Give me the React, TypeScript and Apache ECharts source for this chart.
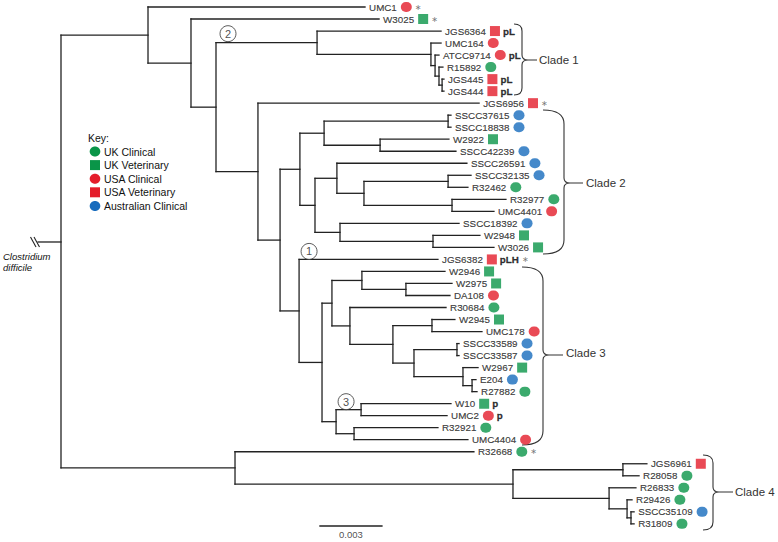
import React, { useEffect, useRef } from 'react';
import * as echarts from 'echarts';

// Leaves (top to bottom), branch-tip depth in units of 0.001 substitutions/site from the root
const leafNames = ['UMC1', 'W3025', 'JGS6364', 'UMC164', 'ATCC9714', 'R15892', 'JGS445', 'JGS444', 'JGS6956', 'SSCC37615', 'SSCC18838', 'W2922', 'SSCC42239', 'SSCC26591', 'SSCC32135', 'R32462', 'R32977', 'UMC4401', 'SSCC18392', 'W2948', 'W3026', 'JGS6382', 'W2946', 'W2975', 'DA108', 'R30684', 'W2945', 'UMC178', 'SSCC33589', 'SSCC33587', 'W2967', 'E204', 'R27882', 'W10', 'UMC2', 'R32921', 'UMC4404', 'R32668', 'JGS6961', 'R28058', 'R26833', 'R29426', 'SSCC35109', 'R31809'];
const leafOrigin = ['USC', 'UKV', 'USV', 'USC', 'USC', 'UKC', 'USV', 'USV', 'USV', 'AUC', 'AUC', 'UKV', 'AUC', 'AUC', 'AUC', 'UKC', 'UKC', 'USC', 'AUC', 'UKV', 'UKV', 'USV', 'UKV', 'UKV', 'USC', 'UKC', 'UKV', 'USC', 'AUC', 'AUC', 'UKV', 'AUC', 'UKC', 'UKV', 'USC', 'UKC', 'USC', 'UKC', 'USV', 'UKC', 'UKC', 'UKC', 'AUC', 'UKC'];
const leafPlasmid = ['', '', 'pL', '', 'pL', '', 'pL', 'pL', '', '', '', '', '', '', '', '', '', '', '', '', '', 'pLH', '', '', '', '', '', '', '', '', '', '', '', 'p', 'p', '', '', '', '', '', '', '', '', ''];
const leafStar = ['UMC1', 'W3025', 'JGS6956', 'JGS6382', 'R32668'];
const leafDepth = [14.71, 15.39, 18.39, 18.39, 18.29, 18.48, 18.53, 18.53, 20.23, 18.87, 18.87, 18.77, 19.11, 19.64, 19.84, 19.69, 21.53, 20.95, 19.26, 20.27, 20.95, 18.24, 18.58, 18.92, 18.82, 18.63, 19.06, 20.37, 19.26, 19.26, 20.18, 20.08, 20.13, 18.87, 18.68, 18.24, 19.69, 19.98, 28.35, 27.97, 27.82, 27.63, 27.73, 27.73];

// Internal nodes (children before parents)
const nodeNames = ['n_h', 'n_g', 'n_f', 'n_e', 'c1', 'k1', 'k2', 'k', 'p', 'q', 'o', 'm', 'r', 'n', 'l', 'c2', 'y', 'w', 'aa', 'ad', 'ae', 'ac', 'ab', 'z', 'x', 'u', 'af', 'ag', 'v', 't', 'c3', 'i', 'd', 'c', 'b', 'a', 'dd', 'gg', 'ff', 'ee', 'cc', 'bb', 'root'];
const nodeDepths = [18.44, 18.29, 18.10, 17.90, 12.39, 18.73, 15.44, 12.73, 18.73, 18.92, 14.66, 13.35, 18.00, 13.50, 12.29, 11.56, 16.69, 14.56, 17.95, 19.16, 19.89, 19.45, 17.08, 16.06, 13.98, 13.11, 14.52, 14.18, 13.31, 12.63, 11.52, 10.60, 9.53, 7.50, 6.29, 4.21, 27.19, 27.58, 27.39, 26.52, 21.87, 8.42, 0];
const nodeChildren = [
  ['JGS445', 'JGS444'], ['R15892', 'n_h'], ['ATCC9714', 'n_g'], ['UMC164', 'n_f'], ['JGS6364', 'n_e'],
  ['SSCC37615', 'SSCC18838'], ['W2922', 'SSCC42239'], ['k1', 'k2'], ['SSCC32135', 'R32462'], ['R32977', 'UMC4401'],
  ['p', 'q'], ['SSCC26591', 'o'], ['W2948', 'W3026'], ['SSCC18392', 'r'], ['m', 'n'], ['k', 'l'],
  ['W2975', 'DA108'], ['W2946', 'y'], ['W2945', 'UMC178'], ['SSCC33589', 'SSCC33587'], ['E204', 'R27882'],
  ['W2967', 'ae'], ['ad', 'ac'], ['aa', 'ab'], ['R30684', 'z'], ['w', 'x'], ['W10', 'UMC2'], ['R32921', 'UMC4404'],
  ['af', 'ag'], ['u', 'v'], ['JGS6382', 't'], ['c2', 'c3'], ['JGS6956', 'i'], ['c1', 'd'], ['W3025', 'c'], ['UMC1', 'b'],
  ['JGS6961', 'R28058'], ['SSCC35109', 'R31809'], ['R29426', 'gg'], ['R26833', 'ff'], ['dd', 'ee'], ['R32668', 'cc'], ['a', 'bb'],
];

// Outgroup stub
const outgroupLines = ['Clostridium', 'difficile'];
const outgroupRow = 19.55;
const outgroupDepth = -1.11;

// Numbered nodes
const circledNodes = ['c', 'c3', 'v'];
const circledLabels = ['2', '1', '3'];
const circledOffsets = [[12, -9], [10, -8], [10, -8]];

// Key
const originKeys = ['UKC', 'UKV', 'USC', 'USV', 'AUC'];
const originLabels = ['UK Clinical', 'UK Veterinary', 'USA Clinical', 'USA Veterinary', 'Australian Clinical'];
const originColors = ['#0a9548', '#0a9548', '#e41d2b', '#e41d2b', '#176bbd'];
const originShapes = ['ellipse', 'square', 'ellipse', 'square', 'ellipse'];

// Clades
const cladeNames = ['Clade 1', 'Clade 2', 'Clade 3', 'Clade 4'];

// Scale bar
const scaleStart = 12.53;
const scaleLength = 3; // 0.003
const scaleRow = 43.18;
const scaleLabel = '0.003';

const W = 778;
const H = 542;
const FONT = 'Liberation Sans, Arial, sans-serif';

function bracePath(x0: number, yTop: number, yBot: number, xv: number, yTip: number, xTip: number, r: number) {
  return `M${x0} ${yTop} Q${xv} ${yTop} ${xv} ${yTop + r} L${xv} ${yTip - 5} Q${xv} ${yTip} ${xv + 6} ${yTip} L${xTip} ${yTip} M${xv + 6} ${yTip} Q${xv} ${yTip} ${xv} ${yTip + 5} L${xv} ${yBot - r} Q${xv} ${yBot} ${x0} ${yBot}`;
}

const braceGeom = [
  [514, 24, 95, 522, 60, 537, 7],
  [543, 110, 254, 564, 183, 583, 14],
  [522, 267, 445, 543, 355, 563, 14],
  [703, 455, 530, 713, 492, 733, 8],
];
const cladeTextPos = [[539, 60], [586, 183], [566, 353], [735, 492]];

export default function App() {
  const ref = useRef<HTMLDivElement>(null);
  useEffect(() => {
    const el = ref.current;
    if (!el) return;
    braceGeom.forEach((g, i) => {
      echarts.graphic.registerShape('brace' + i, echarts.graphic.extendPath(bracePath(g[0], g[1], g[2], g[3], g[4], g[5], g[6]), {}) as any);
    });

    const rowOf: Record<string, number> = {};
    const depthOf: Record<string, number> = {};
    leafNames.forEach((n, i) => { rowOf[n] = i; depthOf[n] = leafDepth[i]; });
    nodeNames.forEach((n, i) => {
      const [a, b] = nodeChildren[i];
      rowOf[n] = (rowOf[a] + rowOf[b]) / 2;
      depthOf[n] = nodeDepths[i];
    });
    const edges: number[][] = [];
    nodeNames.forEach((n, i) => {
      const d = depthOf[n];
      const [a, b] = nodeChildren[i];
      edges.push([d, rowOf[a], d, rowOf[b]]);
      [a, b].forEach((c) => edges.push([d, rowOf[c], depthOf[c], rowOf[c]]));
    });
    edges.push([0, outgroupRow, outgroupDepth, outgroupRow]);

    const rich: any = {
      n: { fontSize: 9.8, color: '#111', fontFamily: FONT, textBorderColor: '#111', textBorderWidth: 0.2 },
      s: { width: 4, fontSize: 9.8 },
      s2: { width: 3, fontSize: 9.8 },
      b: { fontSize: 9.8, fontWeight: 'bold', color: '#000', fontFamily: FONT, textBorderColor: '#000', textBorderWidth: 0.3 },
      a: { fontSize: 8, color: '#555', fontFamily: 'DejaVu Sans' },
    };
    originKeys.forEach((k, i) => {
      rich[k] = originShapes[i] === 'square'
        ? { width: 10, height: 10, backgroundColor: originColors[i] }
        : { width: 11, height: 10, backgroundColor: originColors[i], borderRadius: 5 };
    });

    const leafLabel = (i: number) => {
      let s = `{n|${leafNames[i]}}{s| }{${leafOrigin[i]}| }`;
      if (leafPlasmid[i]) s += `{s2| }{b|${leafPlasmid[i]}}`;
      if (leafStar.indexOf(leafNames[i]) >= 0) s += `{s2| }{a|∗}`;
      return s;
    };

    const lineRender = (params: any, api: any) => {
      const p1 = api.coord([api.value(0), api.value(1)]);
      const p2 = api.coord([api.value(2), api.value(3)]);
      return {
        type: 'line',
        shape: { x1: p1[0], y1: p1[1], x2: p2[0], y2: p2[1] },
        style: { stroke: '#222', lineWidth: 1.3, lineCap: 'square' },
      };
    };

    const pxPerUnitX = 62 / 3;
    const pxPerRow = 12.02;

    const graphics: any[] = [];
    // Key
    graphics.push({ type: 'text', x: 88, y: 138, style: { text: 'Key:', font: `10.5px ${FONT}`, fill: '#111', verticalAlign: 'middle' } });
    originLabels.forEach((lab, i) => {
      const cy = 151.5 + i * 13.6;
      if (originShapes[i] === 'square') {
        graphics.push({ type: 'rect', shape: { x: 90, y: cy - 5, width: 10, height: 10 }, style: { fill: originColors[i] } });
      } else {
        graphics.push({ type: 'ellipse', shape: { cx: 95, cy, rx: 5.3, ry: 5 }, style: { fill: originColors[i] } });
      }
      graphics.push({ type: 'text', x: 104, y: cy, style: { text: lab, font: `10.5px ${FONT}`, fill: '#111', verticalAlign: 'middle' } });
    });
    // Braces and clade labels
    braceGeom.forEach((g, i) => {
      graphics.push({ type: 'brace' + i, style: { stroke: '#333', fill: 'none', lineWidth: 1.1 } });
      graphics.push({ type: 'text', x: cladeTextPos[i][0], y: cladeTextPos[i][1], style: { text: cladeNames[i], font: `11.5px ${FONT}`, fill: '#333', verticalAlign: 'middle' } });
    });
    // Outgroup name and break marks
    graphics.push({ type: 'text', x: 3, y: 256, style: { text: outgroupLines[0], font: `italic 9.5px ${FONT}`, fill: '#111', verticalAlign: 'middle' } });
    graphics.push({ type: 'text', x: 3, y: 267, style: { text: outgroupLines[1], font: `italic 9.5px ${FONT}`, fill: '#111', verticalAlign: 'middle' } });
    graphics.push({ type: 'line', shape: { x1: 30.5, y1: 237, x2: 36, y2: 247 }, style: { stroke: '#222', lineWidth: 1.1 } });
    graphics.push({ type: 'line', shape: { x1: 34, y1: 237, x2: 39.5, y2: 247 }, style: { stroke: '#222', lineWidth: 1.1 } });

    const option: any = {
      animation: false,
      backgroundColor: '#fff',
      textStyle: { fontFamily: FONT },
      grid: { left: 0, right: 0, top: 0, bottom: 0 },
      xAxis: { type: 'value', min: -61 / pxPerUnitX, max: (W - 61) / pxPerUnitX, show: false },
      yAxis: { type: 'value', min: -7 / pxPerRow, max: (H - 7) / pxPerRow, inverse: true, show: false },
      series: [
        { type: 'custom', data: edges, encode: { x: [0, 2], y: [1, 3] }, renderItem: lineRender, silent: true, clip: false },
        { type: 'custom', data: [[scaleStart, scaleRow, scaleStart + scaleLength, scaleRow]], encode: { x: [0, 2], y: [1, 3] }, renderItem: lineRender, silent: true, clip: false },
        {
          type: 'scatter', silent: true, symbolSize: 0.1, itemStyle: { color: 'rgba(0,0,0,0)' },
          data: [[scaleStart + scaleLength / 2, scaleRow]],
          label: { show: true, position: 'bottom', distance: 3, formatter: scaleLabel, fontSize: 9.5, color: '#222', fontFamily: FONT },
        },
        {
          type: 'scatter', silent: true, symbolSize: 0.1, itemStyle: { color: 'rgba(0,0,0,0)' },
          data: leafNames.map((n, i) => [leafDepth[i], i]),
          label: { show: true, position: 'right', distance: 4, formatter: (p: any) => leafLabel(p.dataIndex), rich },
        },
        {
          type: 'scatter', silent: true, symbol: 'circle', symbolSize: 16,
          itemStyle: { color: '#fff', borderColor: '#333', borderWidth: 1 },
          data: circledNodes.map((n, i) => ({ value: [depthOf[n], rowOf[nodeChildren[nodeNames.indexOf(n)][0]]], symbolOffset: circledOffsets[i] })),
          label: { show: true, position: 'inside', formatter: (p: any) => circledLabels[p.dataIndex], color: '#222', fontSize: 11, fontFamily: FONT },
          z: 5,
        },
      ],
      graphic: graphics,
    };

    const chart = echarts.init(el, null, { renderer: 'svg' });
    chart.setOption(option);
    return () => chart.dispose();
  }, []);
  return <div ref={ref} style={{ position: 'fixed', left: 0, top: 0, width: W, height: H, background: '#fff' }} />;
}
